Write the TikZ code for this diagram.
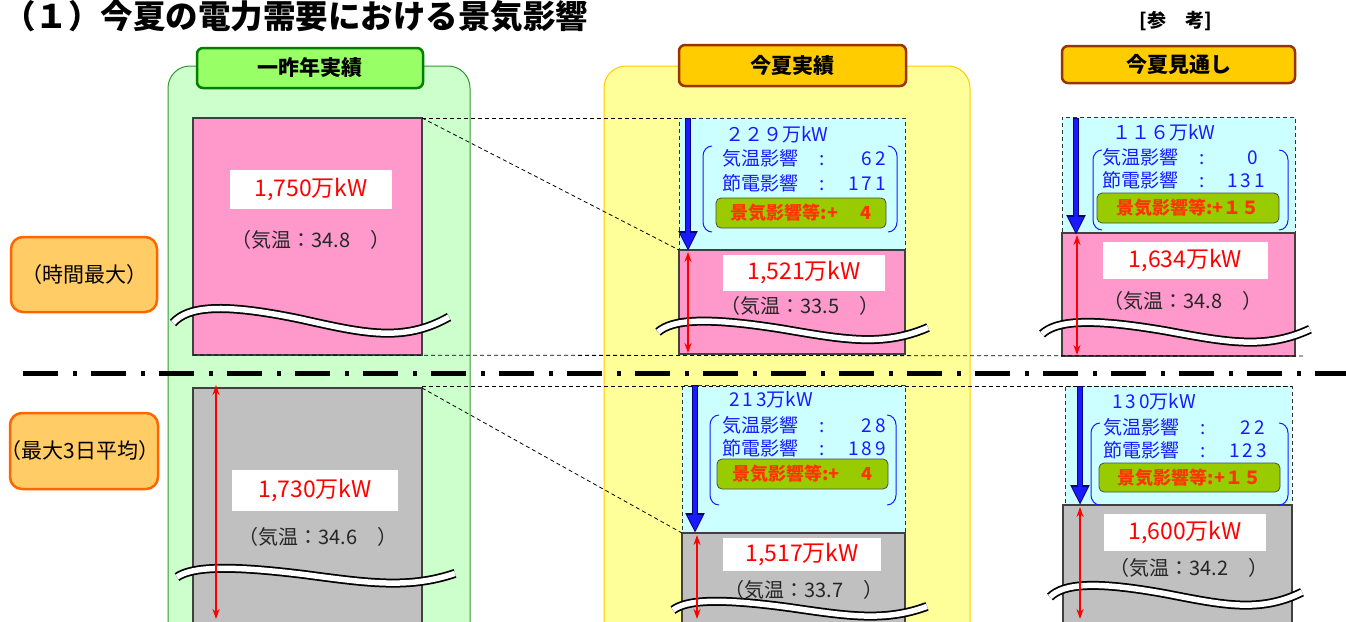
\documentclass[tikz,border=0pt]{standalone}
\usepackage{fontspec}
\setmainfont{Noto Sans CJK JP}
\usetikzlibrary{arrows.meta}
\definecolor{cgreen}{HTML}{CCFFCC}
\definecolor{cgreenb}{HTML}{339933}
\definecolor{hgreen}{HTML}{99FF66}
\definecolor{hgreenb}{HTML}{008000}
\definecolor{cyel}{HTML}{FFFF99}
\definecolor{cyelb}{HTML}{FFCC00}
\definecolor{horange}{HTML}{FFCC00}
\definecolor{horangeb}{HTML}{993300}
\definecolor{lblfill}{HTML}{FFCC66}
\definecolor{lblb}{HTML}{FF6600}
\definecolor{pinkf}{HTML}{FF99CC}
\definecolor{grayf}{HTML}{C0C0C0}
\definecolor{cyanf}{HTML}{CCFFFF}
\definecolor{bluet}{HTML}{1A1AFF}
\definecolor{navyb}{HTML}{000080}
\definecolor{redt}{HTML}{FF0000}
\definecolor{keif}{HTML}{99CC00}
\definecolor{keit}{HTML}{FF3300}
\definecolor{edge}{HTML}{404040}
\newcommand\mywave[4]{%
  \begin{scope}[shift={(#1,#2)},xscale=#3/276,yscale=#4]
    \draw[line width=9pt,black] (0,0) .. controls (15,-17) and (50,-20) .. (127,-4) .. controls (190,10) and (230,20) .. (276,-6);
    \draw[line width=5.5pt,white] (0,0) .. controls (15,-17) and (50,-20) .. (127,-4) .. controls (190,10) and (230,20) .. (276,-6);
  \end{scope}}
\newcommand\mybrk[4]{%
  \draw[brk] (#1+9,#3) to[out=180,in=90] (#1,#3+10) -- (#1,#4-10) to[out=-90,in=180] (#1+9,#4);
  \draw[brk] (#2-9,#3) to[out=0,in=90] (#2,#3+10) -- (#2,#4-10) to[out=-90,in=0] (#2-9,#4);}
\tikzset{
  every node/.style={inner sep=0pt,outer sep=0pt},
  area/.style 2 args={anchor=north west,minimum width=#1pt,minimum height=#2pt},
  container/.style={rounded corners=22pt,line width=1pt},
  hdr/.style={rounded corners=6pt,line width=2.5pt,font=\fontsize{21}{23}\selectfont\bfseries},
  lbl/.style={rounded corners=12pt,line width=2.5pt,fill=lblfill,draw=lblb,font=\fontsize{21}{23}\selectfont},
  pinkbox/.style={fill=pinkf,draw=edge,line width=1.2pt},
  graybox/.style={fill=grayf,draw=edge,line width=1.2pt},
  cyanbox/.style={fill=cyanf,draw=black!80,dash pattern=on 4pt off 3pt,line width=1pt},
  valbox/.style={fill=white,text=redt,font=\fontsize{23}{25}\selectfont},
  temp/.style={text=black!85,font=\fontsize{20}{22}\selectfont},
  blu/.style={anchor=west,text=bluet,font=\fontsize{19}{21}\selectfont},
  kei/.style={fill=keif,draw=black!70,rounded corners=5pt,line width=0.8pt,text=keit,font=\fontsize{18}{20}\selectfont\bfseries},
  brk/.style={draw=bluet,line width=1pt},
  dline/.style={draw=black,dash pattern=on 4pt off 3pt,line width=0.8pt},
  bluearrowo/.style={draw=navyb,line width=6.5pt,-{Triangle[width=18pt,length=20pt]}},
  bluearrow/.style={draw=bluet,line width=4.5pt,-{Triangle[width=14pt,length=16pt]}},
  redarrow/.style={draw=red,line width=1.2pt,{Stealth[width=7pt,length=10pt]}-{Stealth[width=7pt,length=10pt]}},
  dashdot/.style={line width=5pt,dash pattern=on 35pt off 15pt on 4pt off 14pt},
}
\begin{document}
\begin{tikzpicture}[x=1pt,y=-1pt]
\useasboundingbox (0,0) rectangle (1346,621);
\clip (0,0) rectangle (1346,621);
\fill[white] (0,0) rectangle (1346,621);

% title
\node[anchor=west,font=\fontsize{32.5}{34}\selectfont\bfseries] (title) at (3,16) {（１）今夏の電力需要における景気影響};
\node[font=\fontsize{19}{21}\selectfont\bfseries] (ref) at (1176,21) {[参　考]};

% containers
\node[container,fill=cgreen,draw=cgreenb,area={302}{600}] (gcont) at (168,66) {};
\node[container,fill=cyel,draw=cyelb,area={366}{600}] (ycont) at (604,66) {};

% headers
\node[hdr,fill=hgreen,draw=hgreenb,area={226}{40}] (ghead) at (197,48) {一昨年実績};
\node[hdr,fill=horange,draw=horangeb,area={227}{41}] (mhead) at (679,45) {今夏実績};
\node[hdr,fill=horange,draw=horangeb,area={233}{37}] (rhead) at (1062,46) {今夏見通し};

% row labels
\node[lbl,area={146}{75}] (lab1) at (11,237) {（時間最大）};
\node[lbl,area={148}{76}] (lab2) at (10,413) {};
\node[font=\fontsize{21}{23}\selectfont] (lab2t) at (80,451) {（最大3日平均）};

% boxes
\node[pinkbox,area={229}{237}] (lpink) at (193,118) {};
\node[graybox,area={229}{260}] (lgray) at (193,388) {};
\node[cyanbox,area={226}{132}] (mcyan) at (679,118) {};
\node[pinkbox,area={226}{104}] (mpink) at (679,250) {};
\node[cyanbox,area={223}{148}] (mcyanb) at (682,385) {};
\node[graybox,area={223}{120}] (mgray) at (682,533) {};
\node[cyanbox,area={233}{116}] (rcyan) at (1062,117) {};
\node[pinkbox,area={233}{123}] (rpink) at (1062,233) {};
\node[cyanbox,area={227}{119}] (rcyanb) at (1065,386) {};
\node[graybox,area={229}{120}] (rgray) at (1063,505) {};

% dashed guide lines
\coordinate (g356) at (1305,356);
\coordinate (g386a) at (422,386);
\coordinate (g386b) at (1292,386);
\draw[dline] (lpink.north east) -- (mcyan.north west);
\draw[dline] (lpink.north east) -- (mpink.north west);
\draw[dline] (lpink.south west) -- (g356);
\draw[dline] (g386a) -- (g386b);
\draw[dline] (lgray.north east) -- (mgray.north west);

% dash-dot separator
\coordinate (dd1) at (23,373);
\coordinate (dd2) at (1346,373);
\draw[dashdot] (dd1) -- (dd2);

% wave breaks
\mywave{173}{323}{276}{1}
\mywave{658}{332}{270}{0.75}
\mywave{1042}{334}{268}{0.8}
\mywave{177}{577}{278}{0.6}
\mywave{673}{610}{254}{0.6}
\mywave{1050}{597}{252}{0.8}

% value labels
\node[valbox,area={162}{39}] (lv1) at (230,170) {1,750万kW};
\node[valbox,area={166}{41}] (lv2) at (232,470) {1,730万kW};
\node[valbox,area={162}{36}] (mv1) at (723,255) {1,521万kW};
\node[valbox,area={158}{33}] (mv2) at (723,538) {1,517万kW};
\node[valbox,area={165}{37}] (rv1) at (1103,242) {1,634万kW};
\node[valbox,area={162}{37}] (rv2) at (1104,514) {1,600万kW};

% temperatures
\node[temp] (lt1) at (311,240) {（気温：34.8　）};
\node[temp] (lt2) at (318,537) {（気温：34.6　）};
\node[temp] (mt1t) at (800,306) {（気温：33.5　）};
\node[temp] (mt2t) at (804,590) {（気温：33.7　）};
\node[temp] (rt1t) at (1183,301) {（気温：34.8　）};
\node[temp] (rt2t) at (1189,568) {（気温：34.2　）};

% middle top breakdown
\node[blu] (ma0) at (725,135) {２２９万kW};
\node[blu] (ma1) at (722,158) {\makebox[164pt][l]{気温影響\hspace{22pt}:\hfill 6\,2}};
\node[blu] (ma2) at (722,183) {\makebox[164pt][l]{節電影響\hspace{22pt}:\hfill 1\,7\,1}};
\mybrk{703}{897}{146}{232}
\node[kei,area={170}{30}] (mak) at (716,198) {景気影響等:+\hspace{22pt}4};

% middle bottom breakdown
\node[blu] (mb0) at (729,400) {2\,1\,3万kW};
\node[blu] (mb1) at (722,425) {\makebox[164pt][l]{気温影響\hspace{22pt}:\hfill 2\,8}};
\node[blu] (mb2) at (722,448) {\makebox[164pt][l]{節電影響\hspace{22pt}:\hfill 1\,8\,9}};
\mybrk{710}{896}{415}{505}
\node[kei,area={171}{30}] (mbk) at (717,459) {景気影響等:+\hspace{22pt}4};

% right top breakdown
\node[blu] (ra0) at (1112,133) {１１６万kW};
\node[blu] (ra1) at (1102,157) {\makebox[156pt][l]{気温影響\hspace{22pt}:\hfill 0}};
\node[blu] (ra2) at (1102,180) {\makebox[163pt][l]{節電影響\hspace{22pt}:\hfill 1\,3\,1}};
\mybrk{1093}{1288}{150}{230}
\node[kei,area={182}{30}] (rak) at (1097,193) {景気影響等:+１５};

% right bottom breakdown
\node[blu] (rb0) at (1112,402) {1\,3\,0万kW};
\node[blu] (rb1) at (1103,427) {\makebox[162pt][l]{気温影響\hspace{22pt}:\hfill 2\,2}};
\node[blu] (rb2) at (1103,450) {\makebox[164pt][l]{節電影響\hspace{22pt}:\hfill 1\,2\,3}};
\mybrk{1091}{1288}{423}{505}
\node[kei,area={181}{29}] (rbk) at (1099,463) {景気影響等:+１５};

% blue arrows
\draw[bluearrowo] ([xshift=9pt]mcyan.north west) -- ([xshift=9pt,yshift=-1pt]mpink.north west);
\draw[bluearrow] ([xshift=9pt,yshift=-1pt]mcyan.north west) -- ([xshift=9pt,yshift=1pt]mpink.north west);
\draw[bluearrowo] ([xshift=13pt]mcyanb.north west) -- ([xshift=13pt]mgray.north west);
\draw[bluearrow] ([xshift=13pt,yshift=-1pt]mcyanb.north west) -- ([xshift=13pt,yshift=2pt]mgray.north west);
\draw[bluearrowo] ([xshift=14pt,yshift=-1pt]rcyan.north west) -- ([xshift=14pt,yshift=-2pt]rpink.north west);
\draw[bluearrow] ([xshift=14pt,yshift=-2pt]rcyan.north west) -- ([xshift=14pt]rpink.north west);
\draw[bluearrowo] ([xshift=15pt]rcyanb.north west) -- ([xshift=17pt]rgray.north west);
\draw[bluearrow] ([xshift=15pt,yshift=-1pt]rcyanb.north west) -- ([xshift=17pt,yshift=2pt]rgray.north west);

% red double arrows
\coordinate (lbot) at (216,619);
\coordinate (mbot) at (697,619);
\coordinate (rbot) at (1080,619);
\draw[redarrow] ([xshift=23pt,yshift=3pt]lgray.north west) -- (lbot);
\draw[redarrow] ([xshift=9pt,yshift=-2pt]mpink.north west) -- ([xshift=9pt,yshift=1pt]mpink.south west);
\draw[redarrow] ([xshift=15pt,yshift=-2pt]mgray.north west) -- (mbot);
\draw[redarrow] ([xshift=15pt,yshift=-2pt]rpink.north west) -- ([xshift=15pt,yshift=1pt]rpink.south west);
\draw[redarrow] ([xshift=17pt,yshift=-2pt]rgray.north west) -- (rbot);
\end{tikzpicture}
\end{document}
